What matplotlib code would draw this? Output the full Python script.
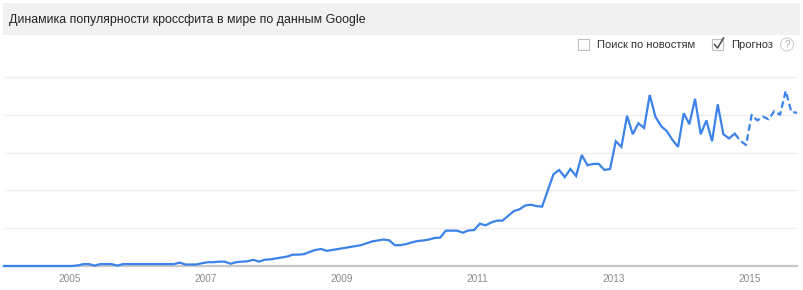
import matplotlib
matplotlib.use("Agg")
import matplotlib.pyplot as plt
from matplotlib.patches import Rectangle, Ellipse
from matplotlib.lines import Line2D

# Monthly interest, Jan 2004 .. Sep 2015 (index 0 = Jan 2004)
values_2004 = [0, 0, 0, 0, 0, 0, 0, 0, 0, 0, 0, 0]
values_2005 = [0, 0.3, 1, 1, 0.2, 1, 1, 1, 0.2, 1, 1, 1]
values_2006 = [1, 1, 1, 1, 1, 1, 1, 1.8, 0.8, 0.8, 0.8, 1.5]
values_2007 = [2, 2, 2.3, 2.3, 1.2, 2, 2.3, 2.5, 3.3, 2.3, 3.3, 3.5]
values_2008 = [4, 4.5, 5, 6, 6, 6.3, 7.5, 8.5, 9, 8, 8.5, 9]
values_2009 = [9.5, 10, 10.5, 11, 12, 13, 13.5, 14, 13.6, 11, 11, 11.6]
values_2010 = [12.5, 13.2, 13.5, 14, 14.8, 15, 18.7, 18.7, 18.7, 17.6, 18.8, 19]
values_2011 = [22.4, 21.5, 23, 24, 24, 26.5, 29, 30, 32, 32.4, 31.7, 31.4]
values_2012 = [40, 48.5, 50.8, 47, 51.3, 47.6, 58.7, 53.3, 54, 54, 50.8, 51.3]
values_2013 = [66, 63, 79.5, 69.7, 75.5, 73, 90.5, 79, 74, 71.4, 66.7, 63]
values_2014 = [80.8, 75, 88.4, 69.7, 77, 66, 85.5, 69.7, 67.5, 70, 66.3, 64]
values_2015 = [80, 77, 79, 77.6, 82, 80, 92.6, 81.6, 81]

forecast_start = 129  # first month drawn dashed (forecast)
years = [2005, 2007, 2009, 2011, 2013, 2015]
title = "Динамика популярности кроссфита в мире по данным Google"
label_news = "Поиск по новостям"
label_forecast = "Прогноз"

values = (values_2004 + values_2005 + values_2006 + values_2007 + values_2008 +
          values_2009 + values_2010 + values_2011 + values_2012 + values_2013 +
          values_2014 + values_2015)
months = list(range(len(values)))

W, H = 804, 290
fig = plt.figure(figsize=(W / 100, H / 100), dpi=100)
fig.patch.set_facecolor("white")

def fx(px):
    return px / W

def fy(py):
    return 1 - py / H

sans = ["Liberation Sans", "DejaVu Sans"]

# Title band
fig.patches.append(Rectangle((fx(3), fy(35)), fx(797), 32 / H, transform=fig.transFigure,
                             facecolor="#f1f1f1", edgecolor="none", zorder=0))
fig.text(fx(9), fy(19.5), title, fontsize=8.9, color="#222222",
         family=sans, va="center", ha="left")

# Checkboxes
fig.patches.append(Rectangle((fx(578), fy(50)), 11 / W, 11 / H, transform=fig.transFigure,
                             facecolor="white", edgecolor="#bdbdbd", lw=0.8))
fig.text(fx(597), fy(44.5), label_news, fontsize=8.0, color="#333333",
         family=sans, va="center", ha="left")
fig.patches.append(Rectangle((fx(712), fy(50)), 11 / W, 11 / H, transform=fig.transFigure,
                             facecolor="white", edgecolor="#bdbdbd", lw=0.8))
fig.lines.append(Line2D([fx(714.5), fx(717.5), fx(723.5)], [fy(44.5), fy(48), fy(38)],
                        transform=fig.transFigure, color="#555555", lw=1.2))
fig.text(fx(731), fy(44.5), label_forecast, fontsize=8.0, color="#333333",
         family=sans, va="center", ha="left")
fig.patches.append(Ellipse((fx(787), fy(44.5)), 13 / W, 13 / H, transform=fig.transFigure,
                           facecolor="white", edgecolor="#cfcfcf", lw=0.8))
fig.text(fx(787), fy(44.5), "?", fontsize=7, color="#aaaaaa",
         family=sans, va="center", ha="center")

# Plot axes
left_px, right_px = 4, 797
bottom_px, top_px = 266, 67.5
ax = fig.add_axes([fx(left_px), 1 - bottom_px / H, (right_px - left_px) / W,
                   (bottom_px - top_px) / H])
ax.set_xlim(0, len(values) - 1)
ax.set_ylim(0, 105)

for g in [20, 40, 60, 80, 100]:
    ax.axhline(g, color="#efefef", lw=1.0, zorder=1)

blue = "#3b82ea"
ax.plot(months[:forecast_start + 1], values[:forecast_start + 1], color=blue, lw=1.6,
        solid_joinstyle="miter", zorder=3, clip_on=False)
ax.plot(months[forecast_start:], values[forecast_start:], color=blue, lw=1.6,
        linestyle=(0, (3, 1.6)), zorder=3, clip_on=False)

for s in ["top", "right", "left"]:
    ax.spines[s].set_visible(False)
ax.spines["bottom"].set_color("#c8c8c8")
ax.spines["bottom"].set_linewidth(1.6)
ax.spines["bottom"].set_zorder(2)

ax.set_yticks([])
ax.set_xticks([(y - 2004) * 12 - 0.4 for y in years])
ax.set_xticklabels([str(y) for y in years], fontsize=7.2, color="#8a8a8a", family=sans)
ax.tick_params(axis="x", length=0, pad=6)
ax.set_facecolor("white")

fig.savefig("out.png", dpi=100)
